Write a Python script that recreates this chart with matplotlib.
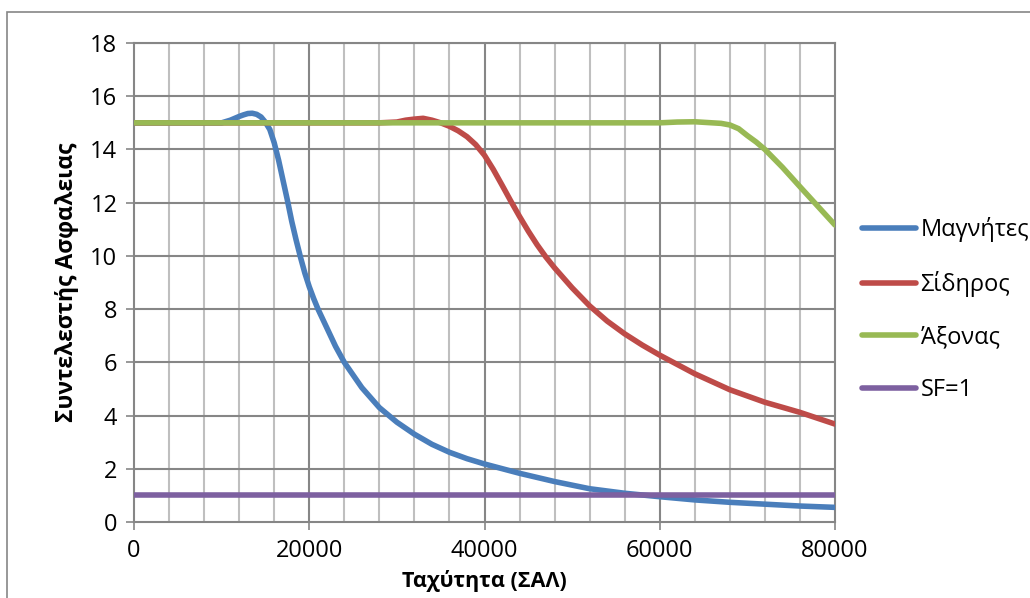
import matplotlib
matplotlib.use("Agg")
import matplotlib.pyplot as plt
from matplotlib.patches import Rectangle

plt.rcParams['font.family'] = ['Open Sans', 'DejaVu Sans']

# --- data ---
blue_x = [0, 4000, 8000, 10000, 11000, 12000, 12500, 13000, 13500, 14000, 14500,
          15000, 15500, 16000, 16500, 17000, 17500, 18000, 18500, 19000, 19500,
          20000, 20500, 21000, 22000, 23000, 24000, 26000, 28000, 30000, 32000,
          34000, 36000, 38000, 40000, 44000, 48000, 52000, 56000, 60000, 64000,
          68000, 72000, 76000, 80000]
blue_y = [15, 15, 15, 15.0, 15.1, 15.24, 15.3, 15.35, 15.36, 15.32, 15.22,
          15.02, 14.75, 14.25, 13.6, 12.85, 12.1, 11.3, 10.6, 9.95, 9.35,
          8.84, 8.4, 8.0, 7.3, 6.6, 6.0, 5.05, 4.3, 3.75, 3.3,
          2.92, 2.62, 2.38, 2.18, 1.83, 1.52, 1.25, 1.08, 0.95, 0.83,
          0.74, 0.67, 0.6, 0.55]

red_x = [0, 28000, 30000, 31000, 32000, 33000, 34000, 35000, 36000, 37000, 38000,
         39000, 40000, 41000, 42000, 43000, 44000, 45000, 46000, 47000, 48000,
         50000, 52000, 54000, 56000, 58000, 60000, 64000, 68000, 72000, 76000,
         80000]
red_y = [15, 15, 15.03, 15.1, 15.14, 15.17, 15.1, 15.0, 14.87, 14.7, 14.48,
         14.18, 13.78, 13.25, 12.66, 12.06, 11.48, 10.93, 10.42, 9.96, 9.55,
         8.8, 8.12, 7.55, 7.07, 6.65, 6.27, 5.57, 4.97, 4.5, 4.12,
         3.68]

green_x = [0, 60000, 62000, 64000, 66000, 67000, 68000, 69000, 70000, 71000,
           72000, 74000, 76000, 78000, 80000]
green_y = [15, 15, 15.03, 15.04, 15.0, 14.98, 14.92, 14.78, 14.52, 14.28,
           14.0, 13.33, 12.6, 11.88, 11.16]

sf_x = [0, 80000]
sf_y = [1, 1]

labels = ['Μαγνήτες', 'Σίδηρος', 'Άξονας', 'SF=1']
colors = ['#4A7EBB', '#BE4B48', '#98B954', '#7D60A0']

fig = plt.figure(figsize=(10.30, 5.98), dpi=100)
ax = fig.add_axes([134 / 1030, 76 / 598, 701 / 1030, 479 / 598])

grid_dark = '#868686'
grid_light = '#BFBFBF'

# minor vertical grid every 4000, major every 20000
for xv in range(4000, 80000, 4000):
    if xv % 20000:
        ax.axvline(xv, color=grid_light, lw=1.5, zorder=1)
for xv in [20000, 40000, 60000]:
    ax.axvline(xv, color=grid_dark, lw=1.5, zorder=1)
for yv in range(2, 19, 2):
    ax.axhline(yv, color=grid_dark, lw=1.5, zorder=1)

series = [(blue_x, blue_y), (red_x, red_y), (green_x, green_y), (sf_x, sf_y)]
for (xs, ys), lab, c in zip(series, labels, colors):
    ax.plot(xs, ys, color=c, lw=4, label=lab, solid_capstyle='round',
            solid_joinstyle='round', zorder=3)

ax.set_xlim(0, 80000)
ax.set_ylim(0, 18)
ax.set_xticks([0, 20000, 40000, 60000, 80000])
ax.set_yticks(range(0, 19, 2))
ax.tick_params(axis='both', labelsize=17, color=grid_dark, length=6, width=1.2,
               pad=6)
for s in ax.spines.values():
    s.set_color(grid_dark)
    s.set_linewidth(1.5)

ax.set_xlabel('Ταχύτητα (ΣΑΛ)', fontsize=15.5, fontweight='bold', labelpad=5)
ax.set_ylabel('Συντελεστής Ασφαλειας', fontsize=16.5, fontweight='bold', labelpad=8)

fig.legend(loc='center left', bbox_to_anchor=(862 / 1030, 0.482), frameon=False,
           fontsize=17, handlelength=2.3, handletextpad=0.18, labelspacing=1.22,
           borderpad=0, borderaxespad=0)

# outer chart border (cropped on right and bottom)
fig.add_artist(Rectangle((7 / 1030, -0.05), 1.1, 1 - 12 / 598 + 0.05,
                         transform=fig.transFigure, fill=False,
                         edgecolor=grid_dark, lw=1.2))

fig.savefig('out.png', dpi=100)
